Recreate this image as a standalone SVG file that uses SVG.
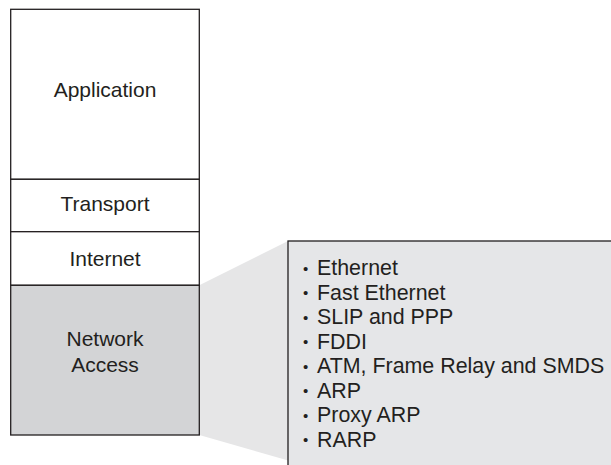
<svg xmlns="http://www.w3.org/2000/svg" width="611" height="465" viewBox="0 0 611 465">
<style>
.t{font-family:"Liberation Sans",Arial,sans-serif;font-size:21px;fill:#231f20}
.l{font-size:21.4px}
.c{text-anchor:middle}
.b{font-size:15px}
.box{stroke:#231f20;stroke-width:1.3}
</style>
<rect width="611" height="465" fill="#ffffff"/>
<g id="connectors">
<polygon points="199.3,285.3 288,241 288,465 304,465 199.3,435" fill="#e6e6e7"/>
</g>
<g id="application">
<rect class="box" x="10.7" y="9.3" width="188.6" height="170" fill="#ffffff"/>
<text class="t c" x="105" y="96.5">Application</text>
</g>
<g id="transport">
<rect class="box" x="10.7" y="179.3" width="188.6" height="52.4" fill="#ffffff"/>
<text class="t c" x="105" y="210.7">Transport</text>
</g>
<g id="internet">
<rect class="box" x="10.7" y="231.7" width="188.6" height="53.6" fill="#ffffff"/>
<text class="t c" x="105" y="265.7">Internet</text>
</g>
<g id="network-access">
<rect class="box" x="10.7" y="285.3" width="188.6" height="149.7" fill="#d3d4d6"/>
<text class="t c" x="105" y="346">Network</text>
<text class="t c" x="105" y="372.3">Access</text>
</g>
<g id="protocols">
<rect class="box" x="288" y="241" width="340" height="240" fill="#e5e6e8"/>
<text class="t l" y="275"><tspan class="b" x="303" dy="-1.5">•</tspan><tspan x="317" dy="1.5">Ethernet</tspan></text>
<text class="t l" y="299.5"><tspan class="b" x="303" dy="-1.5">•</tspan><tspan x="317" dy="1.5">Fast Ethernet</tspan></text>
<text class="t l" y="324"><tspan class="b" x="303" dy="-1.5">•</tspan><tspan x="317" dy="1.5">SLIP and PPP</tspan></text>
<text class="t l" y="348.5"><tspan class="b" x="303" dy="-1.5">•</tspan><tspan x="317" dy="1.5">FDDI</tspan></text>
<text class="t l" y="373"><tspan class="b" x="303" dy="-1.5">•</tspan><tspan x="317" dy="1.5">ATM, Frame Relay and SMDS</tspan></text>
<text class="t l" y="397.5"><tspan class="b" x="303" dy="-1.5">•</tspan><tspan x="317" dy="1.5">ARP</tspan></text>
<text class="t l" y="422"><tspan class="b" x="303" dy="-1.5">•</tspan><tspan x="317" dy="1.5">Proxy ARP</tspan></text>
<text class="t l" y="446.5"><tspan class="b" x="303" dy="-1.5">•</tspan><tspan x="317" dy="1.5">RARP</tspan></text>
</g>
</svg>
